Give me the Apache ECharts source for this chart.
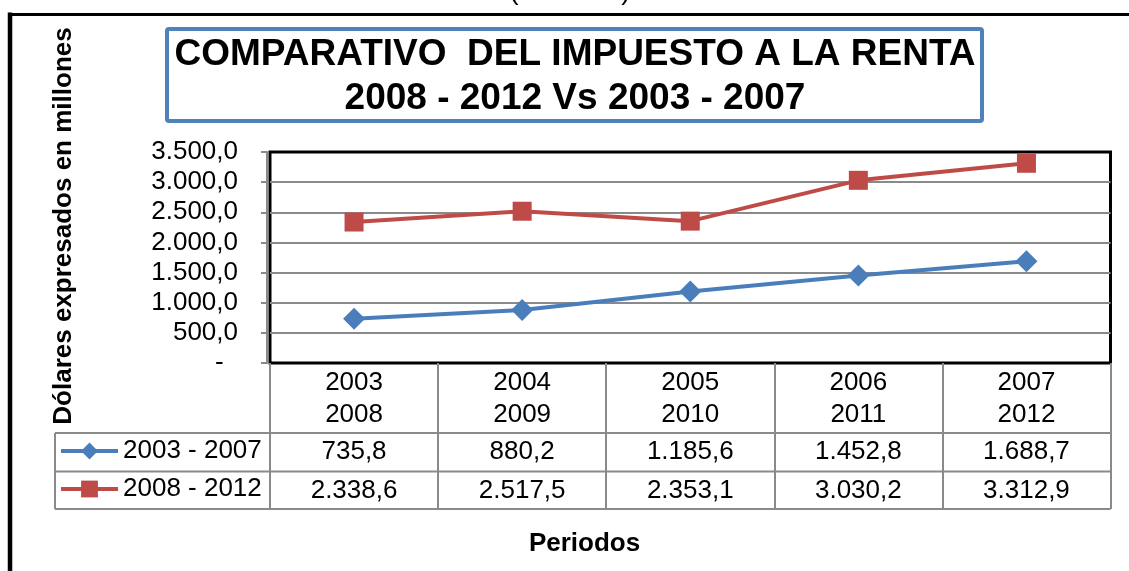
<!DOCTYPE html>
<html>
<head>
<meta charset="utf-8">
<script src="https://cdn.jsdelivr.net/npm/echarts@6/dist/echarts.min.js"></script>
<style>
html,body{margin:0;padding:0;background:#fff;}
#chart{width:1129px;height:571px;}
</style>
</head>
<body>
<div id="chart"></div>
<script>
// ---- data ----
const periodA = ['2003', '2004', '2005', '2006', '2007'];
const periodB = ['2008', '2009', '2010', '2011', '2012'];
const seriesNames = ['2003 - 2007', '2008 - 2012'];
const values2003_2007 = [735.8, 880.2, 1185.6, 1452.8, 1688.7];
const values2008_2012 = [2338.6, 2517.5, 2353.1, 3030.2, 3312.9];
const yMin = 0, yMax = 3500, yStep = 500;
const titleText = 'COMPARATIVO  DEL IMPUESTO A LA RENTA\n2008 - 2012 Vs 2003 - 2007';
const yTitle = 'Dólares expresados en millones';
const xTitle = 'Periodos';
const topNote = '(Millones)';

// ---- helpers ----
const FONT = "'Liberation Sans', Arial, sans-serif";
function fmt(v) {
  const parts = v.toFixed(1).split('.');
  parts[0] = parts[0].replace(/\B(?=(\d{3})+(?!\d))/g, '.');
  return parts[0] + ',' + parts[1];
}
const categories = periodA.map((a, i) => a + '\n' + periodB[i]);
const GRAY = '#8a8a8a';
const BLUE = '#4a7ebb';
const RED = '#be4b48';

// layout (styling only)
const gridLeft = 270, gridTop = 152, gridRight = 18.5, gridBottomY = 363;
const row1Y = 433, row2Y = 471.5, row3Y = 509, tableLeft = 55, tableRight = 1129 - gridRight;

const chart = echarts.init(document.getElementById('chart'), null, {renderer: 'canvas'});

const valueAxis = (vals, offset) => ({
  type: 'category',
  gridIndex: 0,
  position: 'bottom',
  offset: offset,
  data: vals.map(fmt),
  axisLine: {show: false},
  axisTick: {show: false},
  splitLine: {show: false},
  axisLabel: {
    interval: 0, margin: 6, fontSize: 26, lineHeight: 26,
    color: '#000', fontFamily: FONT
  }
});

const option = {
  animation: false,
  backgroundColor: '#fff',
  title: {
    text: titleText,
    left: 575,
    top: 33,
    padding: 0,
    textAlign: 'center',
    textStyle: {fontSize: 37, lineHeight: 44, fontWeight: 'bold', color: '#000', fontFamily: FONT}
  },
  legend: {
    orient: 'vertical',
    left: 59,
    top: 438,
    padding: 0,
    itemGap: 12,
    itemWidth: 57,
    itemHeight: 21,
    lineStyle: {width: 4},
    textStyle: {fontSize: 26, lineHeight: 26, color: '#000', fontFamily: FONT},
    data: seriesNames
  },
  grid: {
    left: gridLeft, top: gridTop, right: gridRight, bottom: 571 - gridBottomY,
    show: true, borderColor: '#000', borderWidth: 3, backgroundColor: 'transparent',
    containLabel: false
  },
  xAxis: [
    {
      type: 'category',
      data: categories,
      boundaryGap: true,
      axisLine: {show: false},
      axisTick: {show: true, length: row3Y - gridBottomY, interval: 0, lineStyle: {color: GRAY, width: 2}},
      axisLabel: {interval: 0, margin: 4, fontSize: 26, lineHeight: 32, color: '#000', fontFamily: FONT},
      splitLine: {show: false}
    },
    valueAxis(values2003_2007, row1Y - gridBottomY),
    valueAxis(values2008_2012, row2Y - gridBottomY)
  ],
  yAxis: {
    type: 'value',
    min: yMin, max: yMax, interval: yStep,
    offset: 3,
    axisLine: {show: true, lineStyle: {color: GRAY, width: 2}},
    axisTick: {show: true, length: 6, lineStyle: {color: GRAY, width: 2}},
    axisLabel: {
      margin: 29, fontSize: 26, color: '#000', fontFamily: FONT,
      formatter: v => v === 0 ? '-  ' : fmt(v)
    },
    splitLine: {show: true, showMinLine: false, showMaxLine: false, lineStyle: {color: GRAY, width: 2}}
  },
  series: [
    {
      name: seriesNames[0], type: 'line', data: values2003_2007,
      symbol: 'diamond', symbolSize: 22,
      lineStyle: {color: BLUE, width: 4},
      itemStyle: {color: BLUE},
      z: 3
    },
    {
      name: seriesNames[1], type: 'line', data: values2008_2012,
      symbol: 'rect', symbolSize: 19,
      lineStyle: {color: RED, width: 4},
      itemStyle: {color: RED},
      z: 3
    }
  ],
  graphic: [
    // outer frame
    {type: 'line', shape: {x1: 10, y1: 12.5, x2: 10, y2: 571}, style: {stroke: '#000', lineWidth: 4.5}},
    {type: 'line', shape: {x1: 8, y1: 14.5, x2: 1129, y2: 14.5}, style: {stroke: '#000', lineWidth: 3}},
    // cut-off note on top
    {type: 'text', x: 570, y: -9, style: {text: topNote, font: "28px " + FONT, fill: '#000', align: 'center', verticalAlign: 'middle'}},
    // title box
    {type: 'rect', shape: {x: 167, y: 29, width: 815, height: 92, r: 2}, style: {fill: 'none', stroke: '#4f81bd', lineWidth: 4}, z: -1},
    // y title
    {type: 'text', x: 64, y: 226, rotation: Math.PI / 2,
     style: {text: yTitle, font: "bold 26px " + FONT, fill: '#000', align: 'center', verticalAlign: 'middle'}},
    // x title
    {type: 'text', x: 584.5, y: 544,
     style: {text: xTitle, font: "bold 26px " + FONT, fill: '#000', align: 'center', verticalAlign: 'middle'}},
    // data table horizontal lines
    {type: 'line', shape: {x1: tableLeft, y1: row1Y, x2: tableRight, y2: row1Y}, style: {stroke: GRAY, lineWidth: 2}},
    {type: 'line', shape: {x1: tableLeft, y1: row2Y, x2: tableRight, y2: row2Y}, style: {stroke: GRAY, lineWidth: 2}},
    {type: 'line', shape: {x1: tableLeft, y1: row3Y, x2: tableRight, y2: row3Y}, style: {stroke: GRAY, lineWidth: 2}},
    {type: 'line', shape: {x1: tableLeft, y1: row1Y, x2: tableLeft, y2: row3Y}, style: {stroke: GRAY, lineWidth: 2}}
  ]
};
chart.setOption(option);
</script>
</body>
</html>
